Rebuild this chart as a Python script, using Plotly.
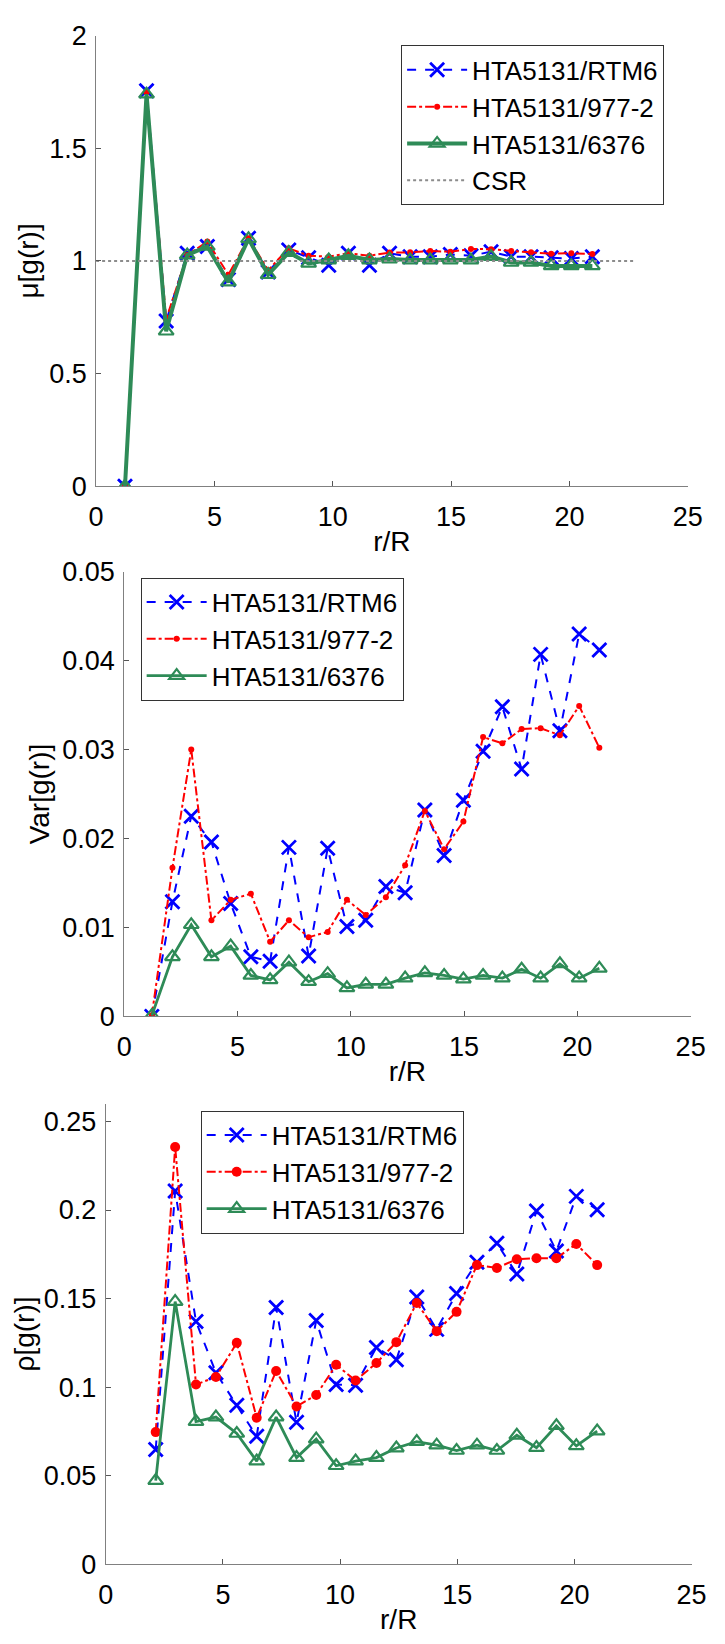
import plotly.graph_objects as go

# ---------------- data ----------------
r_mu = [1.22, 2.13, 2.96, 3.85, 4.70, 5.59, 6.44, 7.27, 8.14, 8.98, 9.83, 10.66,
        11.55, 12.40, 13.27, 14.12, 14.97, 15.84, 16.69, 17.54, 18.38, 19.23, 20.08, 20.97]

mu_rtm6 = [0.0, 1.755, 0.733, 1.034, 1.064, 0.917, 1.101, 0.951, 1.049, 1.014, 0.981, 1.034,
           0.981, 1.034, 1.019, 1.019, 1.029, 1.023, 1.041, 1.019, 1.019, 1.014, 1.011, 1.019]
mu_977 = [0.0, 1.748, 0.741, 1.026, 1.086, 0.939, 1.101, 0.959, 1.056, 1.023, 1.019, 1.034,
          1.023, 1.037, 1.038, 1.044, 1.041, 1.053, 1.052, 1.044, 1.038, 1.032, 1.034, 1.031]
mu_6376 = [0.0, 1.740, 0.688, 1.026, 1.064, 0.906, 1.098, 0.939, 1.037, 0.989, 1.004, 1.023,
           1.004, 1.008, 1.004, 1.004, 1.004, 1.004, 1.019, 0.993, 0.993, 0.978, 0.978, 0.978]
csr_x = [0.0, 22.75]
csr_y = [1.0, 1.0]

var_rtm6 = [0.0, 0.0129, 0.0225, 0.0196, 0.0127, 0.0067, 0.0062, 0.0190, 0.0068, 0.0189, 0.0101, 0.0108,
            0.0146, 0.0139, 0.0232, 0.0181, 0.0243, 0.0298, 0.0348, 0.0278, 0.0407, 0.0321, 0.0430, 0.0412]
var_977 = [0.0001, 0.0167, 0.0300, 0.0108, 0.0131, 0.0138, 0.0084, 0.0108, 0.0089, 0.0095, 0.0131, 0.0114,
           0.0134, 0.0170, 0.0231, 0.0188, 0.0219, 0.0314, 0.0307, 0.0323, 0.0324, 0.0316, 0.0349, 0.0302]
var_6376 = [0.0001, 0.0067, 0.0103, 0.0067, 0.0079, 0.0046, 0.0041, 0.0061, 0.0039, 0.0048, 0.0032, 0.0036,
            0.0036, 0.0043, 0.0049, 0.0046, 0.0042, 0.0046, 0.0043, 0.0053, 0.0043, 0.0059, 0.0043, 0.0054]

r_rho = [2.13, 2.96, 3.85, 4.70, 5.59, 6.44, 7.27, 8.14, 8.98, 9.83, 10.66,
         11.55, 12.40, 13.27, 14.12, 14.97, 15.84, 16.69, 17.54, 18.38, 19.23, 20.08, 20.97]
rho_rtm6 = [0.0648, 0.2107, 0.1370, 0.1081, 0.0897, 0.0722, 0.1449, 0.0801, 0.1376, 0.1015, 0.1011,
            0.1224, 0.1154, 0.1509, 0.1326, 0.1529, 0.1705, 0.1812, 0.1639, 0.1994, 0.1768, 0.2077, 0.2002]
rho_977 = [0.0746, 0.2356, 0.1015, 0.1057, 0.1250, 0.0827, 0.1091, 0.0891, 0.0955, 0.1126, 0.1037,
           0.1136, 0.1254, 0.1475, 0.1316, 0.1425, 0.1689, 0.1673, 0.1722, 0.1728, 0.1728, 0.1808, 0.1689]
rho_6376 = [0.0472, 0.1483, 0.0805, 0.0831, 0.0738, 0.0582, 0.0831, 0.0602, 0.0706, 0.0556, 0.0582,
            0.0602, 0.0656, 0.0692, 0.0672, 0.0642, 0.0672, 0.0642, 0.0728, 0.0658, 0.0782, 0.0668, 0.0752]

names = ["HTA5131/RTM6", "HTA5131/977-2", "HTA5131/6376"]
x_ticks = [0, 5, 10, 15, 20, 25]
mu_ticks = [0, 0.5, 1, 1.5, 2]
var_ticks = [0, 0.01, 0.02, 0.03, 0.04, 0.05]
rho_ticks = [0, 0.05, 0.1, 0.15, 0.2, 0.25]

# ---------------- styling ----------------
W, H = 725, 1644
BLUE = "#0000ff"
RED = "#ff0000"
GREEN = "#2e8b57"
FONT = "Liberation Sans, Arial, sans-serif"
TICK_SIZE = 27
LEG_SIZE = 26
TITLE_SIZE = 28


def px_x(p):
    return p / W


def px_y(p):
    return 1 - p / H


fig = go.Figure()


def add_series(xs, ys, name, kind, axis_id, legend, red_size, green_width):
    xa = "x" if axis_id == 1 else f"x{axis_id}"
    ya = "y" if axis_id == 1 else f"y{axis_id}"
    if kind == 0:
        line = dict(color=BLUE, width=2, dash="dash")
        marker = dict(symbol="x-thin", size=14, line=dict(color=BLUE, width=2.8))
    elif kind == 1:
        line = dict(color=RED, width=2, dash="dashdot")
        marker = dict(symbol="circle", size=red_size, color=RED)
    else:
        line = dict(color=GREEN, width=green_width)
        marker = dict(symbol="triangle-up-open", size=13, color=GREEN, line=dict(color=GREEN, width=2.2))
    fig.add_trace(go.Scatter(x=xs, y=ys, name=name, mode="lines+markers", line=line,
                             marker=marker, xaxis=xa, yaxis=ya, legend=legend))


# panel 1
add_series(r_mu, mu_rtm6, names[0], 0, 1, "legend", 6, 4)
add_series(r_mu, mu_977, names[1], 1, 1, "legend", 6, 4)
add_series(r_mu, mu_6376, names[2], 2, 1, "legend", 6, 4)
fig.add_trace(go.Scatter(x=csr_x, y=csr_y, name="CSR", mode="lines",
                         line=dict(color="#8c8c8c", width=2, dash="dot"),
                         xaxis="x", yaxis="y", legend="legend"))
# panel 2
add_series(r_mu, var_rtm6, names[0], 0, 2, "legend2", 6, 2.8)
add_series(r_mu, var_977, names[1], 1, 2, "legend2", 6, 2.8)
add_series(r_mu, var_6376, names[2], 2, 2, "legend2", 6, 2.8)
# panel 3
add_series(r_rho, rho_rtm6, names[0], 0, 3, "legend3", 10, 2.8)
add_series(r_rho, rho_977, names[1], 1, 3, "legend3", 10, 2.8)
add_series(r_rho, rho_6376, names[2], 2, 3, "legend3", 10, 2.8)

AX = dict(showgrid=False, zeroline=False, showline=True, linecolor="#808080", linewidth=1,
          ticks="inside", ticklen=5, tickcolor="#555555", mirror=False,
          tickfont=dict(size=TICK_SIZE, color="black", family=FONT))


def xaxis(dom, anchor):
    d = dict(AX)
    d.update(domain=dom, anchor=anchor, range=[0, 25], tickvals=x_ticks,
             ticktext=[str(v) for v in x_ticks], ticklabelstandoff=6,
             title=dict(text="r/R", font=dict(size=TITLE_SIZE, color="black", family=FONT), standoff=0))
    return d


def yaxis(dom, anchor, rng, vals, title, standoff):
    d = dict(AX)
    d.update(domain=dom, anchor=anchor, range=rng, tickvals=vals,
             ticktext=[f"{v:g}" for v in vals], ticklabelstandoff=3,
             title=dict(text=title, font=dict(size=TITLE_SIZE, color="black", family=FONT), standoff=standoff))
    return d


LEG = dict(xanchor="left", yanchor="top", bgcolor="white", bordercolor="#333333", borderwidth=1,
           font=dict(size=LEG_SIZE, color="black", family=FONT), itemwidth=60)

fig.update_layout(
    width=W, height=H,
    margin=dict(l=0, r=0, t=0, b=0),
    paper_bgcolor="white", plot_bgcolor="white",
    font=dict(family=FONT, color="black"),
    showlegend=True,
    xaxis=xaxis([px_x(91), px_x(702)], "y"),
    yaxis=yaxis([px_y(480), px_y(21)], "x", [0, 2], mu_ticks, "μ[g(r)]", 2),
    xaxis2=xaxis([px_x(120), px_x(705)], "y2"),
    yaxis2=yaxis([px_y(1020), px_y(567)], "x2", [0, 0.05], var_ticks, "Var[g(r)]", 4),
    xaxis3=xaxis([px_x(101), px_x(706)], "y3"),
    yaxis3=yaxis([px_y(1578), px_y(1109)], "x3", [0, 0.26], rho_ticks, "ρ[g(r)]", 1),
    legend=dict(LEG, x=px_x(406), y=px_y(31)),
    legend2=dict(LEG, x=px_x(137), y=px_y(573)),
    legend3=dict(LEG, x=px_x(199), y=px_y(1116)),
)

fig.write_html("out.html")
